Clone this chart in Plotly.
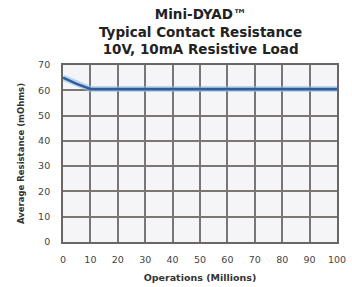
import plotly.graph_objects as go

operations = [0, 5, 10, 20, 30, 40, 50, 60, 70, 80, 90, 100]
resistance = [65, 62.5, 60.5, 60.5, 60.5, 60.5, 60.5, 60.5, 60.5, 60.5, 60.5, 60.5]
x_ticks = [0, 10, 20, 30, 40, 50, 60, 70, 80, 90, 100]
y_ticks = [0, 10, 20, 30, 40, 50, 60, 70]
title_lines = ["Mini-DYAD™", "Typical Contact Resistance", "10V, 10mA Resistive Load"]

FONT = "DejaVu Sans"

fig = go.Figure()
fig.add_trace(go.Scatter(x=operations, y=resistance, mode="lines",
                         line=dict(color="rgba(150,190,230,0.6)", width=6), hoverinfo="skip"))
fig.add_trace(go.Scatter(x=operations, y=resistance, mode="lines",
                         line=dict(color="#2f5d9a", width=2.5)))

fig.add_annotation(text="<b>" + "<br>".join(title_lines) + "</b>", xref="paper", yref="paper",
                   x=0.5, y=1, xanchor="center", yanchor="middle", yshift=34, showarrow=False,
                   font=dict(family=FONT, size=13.5, color="#222"))

fig.update_layout(
    width=352, height=287,
    margin=dict(l=63, r=15, t=65, b=45),
    paper_bgcolor="white", plot_bgcolor="#f5f5f7",
    showlegend=False,
    font=dict(family=FONT, color="#333"),
)
fig.update_xaxes(range=[0, 100], tickvals=x_ticks, showgrid=True, gridcolor="#7a7676", gridwidth=1.8,
                 showline=True, linecolor="#6a6666", linewidth=1.8, mirror=True, zeroline=False,
                 automargin=False,
                 ticks="", ticklabelstandoff=8, tickfont=dict(size=9.5, color="#444"),
                 title=dict(text="<b>Operations (Millions)</b>", font=dict(size=9.5, color="#333"), standoff=10))
fig.update_yaxes(range=[0, 70], tickvals=y_ticks, showgrid=True, gridcolor="#7a7676", gridwidth=1.8,
                 showline=True, linecolor="#6a6666", linewidth=1.8, mirror=True, zeroline=False,
                 automargin=False,
                 ticks="", ticklabelstandoff=9, tickfont=dict(size=9.5, color="#444"),
                 title=dict(text="<b>Average Resistance (mOhms)</b>", font=dict(size=8.5, color="#333"), standoff=12))

fig.write_html("out.html", config={"displayModeBar": False},
               post_script="document.body.style.margin='0';")
